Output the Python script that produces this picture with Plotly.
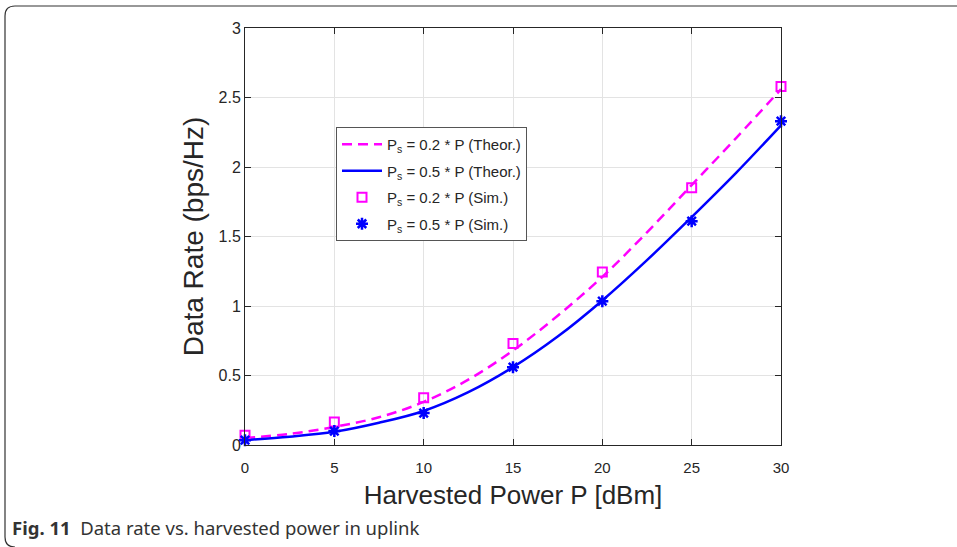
import plotly.graph_objects as go

# Theoretical curves
p_theor = [0, 2.5, 5, 7.5, 10, 12.5, 15, 17.5, 20, 22.5, 25, 27.5, 30]
rate_02_theor = [0.05, 0.08, 0.13, 0.20, 0.31, 0.47, 0.68, 0.93, 1.21, 1.53, 1.87, 2.21, 2.56]
rate_05_theor = [0.035, 0.06, 0.095, 0.16, 0.245, 0.38, 0.56, 0.78, 1.04, 1.33, 1.64, 1.96, 2.30]

# Simulation points
p_sim = [0, 5, 10, 15, 20, 25, 30]
rate_02_sim = [0.07, 0.165, 0.34, 0.73, 1.245, 1.85, 2.58]
rate_05_sim = [0.035, 0.10, 0.23, 0.56, 1.035, 1.61, 2.33]

x_ticks = [0, 5, 10, 15, 20, 25, 30]
y_ticks = [0, 0.5, 1, 1.5, 2, 2.5, 3]

MAG = "#ff00ff"
BLU = "#0000ff"
FONT = "Liberation Sans, Arial, sans-serif"

fig = go.Figure()
fig.add_trace(go.Scatter(x=p_theor, y=rate_02_theor, mode="lines", line_shape="spline",
                         line=dict(color=MAG, width=2.5, dash="10px,6px"), legendgroup="a",
                         name="P<sub>s</sub> = 0.2 * P (Theor.)"))
fig.add_trace(go.Scatter(x=p_theor, y=rate_05_theor, mode="lines", line_shape="spline",
                         line=dict(color=BLU, width=2.5), legendgroup="b",
                         name="P<sub>s</sub> = 0.5 * P (Theor.)"))
fig.add_trace(go.Scatter(x=p_sim, y=rate_02_sim, mode="markers", legendgroup="c",
                         marker=dict(symbol="square-open", size=9, color=MAG, line=dict(width=2, color=MAG)),
                         name="P<sub>s</sub> = 0.2 * P (Sim.)", cliponaxis=False))
fig.add_trace(go.Scatter(x=p_sim, y=rate_05_sim, mode="markers", legendgroup="d",
                         marker=dict(symbol="asterisk-open", size=10, color=BLU, line=dict(width=2.5, color=BLU)),
                         name="P<sub>s</sub> = 0.5 * P (Sim.)", cliponaxis=False))

L, R, T, B = 245, 781, 28, 445
W, H = 957, 547
pw, ph = R - L, B - T

def px(x):
    return (x - L) / pw

def py(y):
    return (B - y) / ph

# rounded panel border
r = 10
path = (f"M {px(960)},{py(6)} L {px(5 + r)},{py(6)} Q {px(5)},{py(6)} {px(5)},{py(6 + r)} "
        f"L {px(5)},{py(537)} Q {px(5)},{py(547)} {px(5 + r)},{py(547)}")

fig.update_layout(
    width=W, height=H,
    margin=dict(l=L, r=W - R, t=T, b=H - B),
    paper_bgcolor="white", plot_bgcolor="white",
    font=dict(family=FONT, color="#262626"),
    showlegend=True,
    legend=dict(x=px(336), y=py(127), xanchor="left", yanchor="top",
                bgcolor="white", bordercolor="#555555", borderwidth=1,
                font=dict(size=15, family=FONT, color="#262626"),
                tracegroupgap=4, itemwidth=40),
    shapes=[dict(type="path", path=path, xref="paper", yref="paper",
                 line=dict(color="#333333", width=1.2))],
    annotations=[
        dict(text="<b>Fig. 11</b>  Data rate vs. harvested power in uplink",
             x=px(10), y=py(527), xref="paper", yref="paper",
             xanchor="left", yanchor="middle", showarrow=False,
             font=dict(family="Noto Sans, Open Sans, sans-serif", size=18.5, color="#333333")),
    ],
)

fig.update_xaxes(range=[0, 30], tickvals=x_ticks, ticks="inside", ticklen=6,
                 tickcolor="#262626", showline=True, linecolor="#262626", linewidth=1,
                 mirror="ticks", showgrid=True, gridcolor="#e3e3e3", zeroline=False,
                 ticklabelstandoff=9,
                 tickfont=dict(size=15, family=FONT, color="#262626"),
                 title=dict(text="Harvested Power P [dBm]", font=dict(size=26, family=FONT, color="#262626"),
                            standoff=10))
fig.update_yaxes(range=[0, 3], tickvals=y_ticks, ticktext=["0", "0.5", "1", "1.5", "2", "2.5", "3"],
                 ticks="inside", ticklen=6,
                 tickcolor="#262626", showline=True, linecolor="#262626", linewidth=1,
                 mirror="ticks", showgrid=True, gridcolor="#e3e3e3", zeroline=False,
                 tickfont=dict(size=16, family=FONT, color="#262626"),
                 title=dict(text="Data Rate (bps/Hz)", font=dict(size=28, family=FONT, color="#262626"),
                            standoff=6))

fig.write_html("out.html")
